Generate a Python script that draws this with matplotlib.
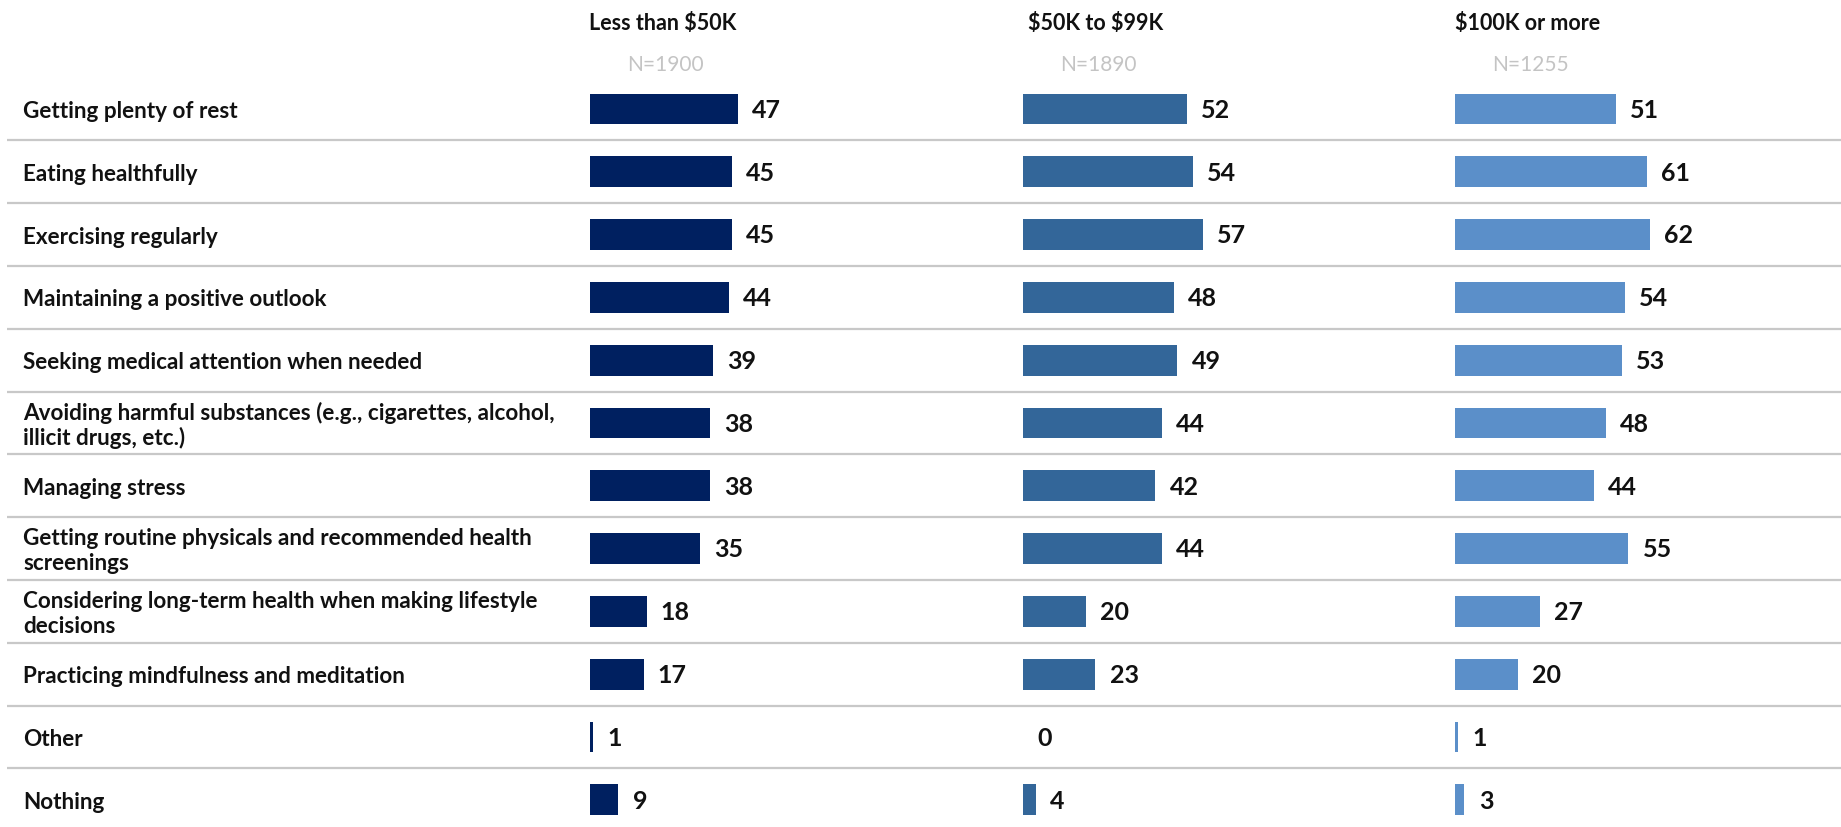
import matplotlib
matplotlib.use("Agg")
import matplotlib.pyplot as plt

plt.rcParams['font.family'] = ['Lato', 'DejaVu Sans']

categories = [
    "Getting plenty of rest",
    "Eating healthfully",
    "Exercising regularly",
    "Maintaining a positive outlook",
    "Seeking medical attention when needed",
    "Avoiding harmful substances (e.g., cigarettes, alcohol,\nillicit drugs, etc.)",
    "Managing stress",
    "Getting routine physicals and recommended health\nscreenings",
    "Considering long-term health when making lifestyle\ndecisions",
    "Practicing mindfulness and meditation",
    "Other",
    "Nothing",
]
groups = ["Less than $50K", "$50K to $99K", "$100K or more"]
sample_sizes = ["N=1900", "N=1890", "N=1255"]
less_50k = [47, 45, 45, 44, 39, 38, 38, 35, 18, 17, 1, 9]
k50_99 = [52, 54, 57, 48, 49, 44, 42, 44, 20, 23, 0, 4]
k100_plus = [51, 61, 62, 54, 53, 48, 44, 55, 27, 20, 1, 3]
series = [less_50k, k50_99, k100_plus]
colors = ["#002060", "#336699", "#5B8FC9"]

W, H = 1841, 827
fig = plt.figure(figsize=(W / 100, H / 100), dpi=100)

row_px = 62.8
first_px = 109
y_top = -first_px / row_px
y_bot = (H - first_px) / row_px

# background axes: labels and separators
bg = fig.add_axes([0, 0, 1, 1])
bg.set_xlim(0, 1)
bg.set_ylim(y_bot, y_top)
bg.axis("off")
n = len(categories)
for i in range(n - 1):
    bg.plot([7 / W, 1], [i + 0.5, i + 0.5], color="#c8c8c8", lw=1.6,
            solid_capstyle="butt")
for i, lab in enumerate(categories):
    bg.text(23 / W, i + 0.04, lab, fontsize=16.2, fontweight="bold",
            color="#111111", va="center", ha="left", linespacing=1.2,
            parse_math=False)

px_per_unit = 3.15
lefts = [590, 1023, 1455]
ax_w = 380
for k in range(3):
    ax = fig.add_axes([lefts[k] / W, 0, ax_w / W, 1])
    ax.set_xlim(0, ax_w / px_per_unit)
    ax.set_ylim(y_bot, y_top)
    ax.axis("off")
    ax.barh(range(n), series[k], height=0.49, color=colors[k], left=0,
            linewidth=0)
    for i, v in enumerate(series[k]):
        ax.text(v + 4.5, i + 0.02, str(v), fontsize=18, fontweight="bold",
                color="#111111", va="center", ha="left")
    ax.text(23, (24 - first_px) / row_px, groups[k], fontsize=15.5,
            fontweight="bold", color="#111111", ha="center", va="center",
            parse_math=False)
    ax.text(24, (65 - first_px) / row_px, sample_sizes[k], fontsize=15,
            color="#c4c4c4", ha="center", va="center", parse_math=False)

fig.savefig("out.png", dpi=100)
